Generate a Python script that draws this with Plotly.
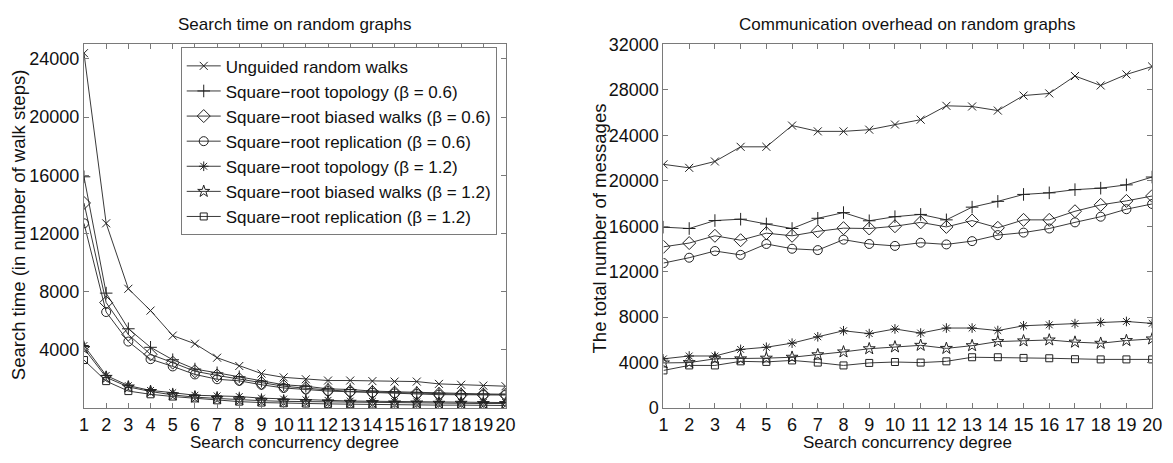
import plotly.graph_objects as go

x = list(range(1, 21))

series_names = [
    "Unguided random walks",
    "Square\u2212root topology (\u03b2 = 0.6)",
    "Square\u2212root biased walks (\u03b2 = 0.6)",
    "Square\u2212root replication (\u03b2 = 0.6)",
    "Square\u2212root topology (\u03b2 = 1.2)",
    "Square\u2212root biased walks (\u03b2 = 1.2)",
    "Square\u2212root replication (\u03b2 = 1.2)",
]

# Left panel: search time (walk steps)
time_unguided = [24400, 12700, 8200, 6700, 4980, 4420, 3460, 2890, 2370, 2110, 1980, 1890, 1890, 1850, 1820, 1820, 1660, 1600, 1540, 1500]
time_topo06 = [15900, 7900, 5450, 4175, 3320, 2680, 2420, 2150, 1850, 1600, 1500, 1320, 1275, 1165, 1120, 1080, 1010, 990, 970, 950]
time_biased06 = [14100, 7250, 5050, 3690, 3120, 2530, 2240, 1980, 1710, 1500, 1360, 1230, 1140, 1100, 1055, 1010, 970, 920, 920, 920]
time_repl06 = [12700, 6600, 4570, 3360, 2860, 2310, 1980, 1870, 1600, 1380, 1275, 1165, 1120, 1055, 1010, 970, 920, 900, 900, 900]
time_topo12 = [4300, 2240, 1540, 1210, 1055, 880, 835, 790, 680, 615, 570, 530, 480, 460, 440, 420, 400, 400, 375, 375]
time_biased12 = [4100, 2110, 1450, 1140, 900, 750, 660, 570, 505, 460, 440, 420, 400, 375, 350, 350, 330, 330, 310, 310]
time_repl12 = [3300, 1850, 1165, 945, 790, 660, 530, 440, 375, 330, 310, 285, 265, 240, 220, 220, 200, 200, 175, 175]

# Right panel: total number of messages
msg_unguided = [21450, 21140, 21700, 22990, 22990, 24860, 24350, 24350, 24500, 24950, 25380, 26600, 26540, 26180, 27500, 27690, 29220, 28390, 29360, 30060]
msg_topo06 = [15920, 15800, 16500, 16620, 16200, 15800, 16700, 17200, 16480, 16840, 17040, 16560, 17680, 18190, 18800, 18940, 19220, 19350, 19640, 20330]
msg_biased06 = [14190, 14520, 15160, 14770, 15390, 15160, 15550, 15830, 15800, 16000, 16340, 15940, 16500, 15860, 16560, 16560, 17320, 17880, 18230, 18660]
msg_repl06 = [12760, 13230, 13820, 13480, 14440, 14020, 13900, 14820, 14440, 14270, 14550, 14400, 14690, 15220, 15440, 15800, 16340, 16840, 17500, 17960]
msg_topo12 = [4330, 4580, 4580, 5160, 5350, 5710, 6270, 6800, 6550, 6960, 6600, 7040, 7040, 6820, 7240, 7320, 7430, 7540, 7620, 7450]
msg_biased12 = [3970, 4000, 4330, 4330, 4390, 4470, 4690, 4940, 5220, 5380, 5520, 5250, 5490, 5850, 5910, 5990, 5800, 5700, 5940, 6080]
msg_repl12 = [3310, 3750, 3750, 4110, 4060, 4190, 4000, 3750, 3970, 4050, 4000, 4110, 4470, 4470, 4410, 4380, 4300, 4280, 4280, 4280]

time_series = [time_unguided, time_topo06, time_biased06, time_repl06, time_topo12, time_biased12, time_repl12]
msg_series = [msg_unguided, msg_topo06, msg_biased06, msg_repl06, msg_topo12, msg_biased12, msg_repl12]

symbols = ["x-thin", "cross-thin", "diamond-open", "circle-open", "asterisk", "star-open", "square-open"]
sizes = [8, 9, 10, 9, 8, 9, 7]

time_ticks = [4000, 8000, 12000, 16000, 20000, 24000]
msg_ticks = [0, 4000, 8000, 12000, 16000, 20000, 24000, 28000, 32000]

FONT = "Liberation Sans, Arial, Helvetica, sans-serif"
LINE = "#3a3a3a"
MARK = "#222222"
AXC = "#7a7a7a"

fig = go.Figure()
for name, ys, sym, sz in zip(series_names, time_series, symbols, sizes):
    fig.add_trace(go.Scatter(
        x=x, y=ys, name=name, mode="lines+markers", xaxis="x", yaxis="y",
        line=dict(color=LINE, width=1),
        marker=dict(symbol=sym, size=sz, color=MARK, line=dict(color=MARK, width=1)),
    ))
for name, ys, sym, sz in zip(series_names, msg_series, symbols, sizes):
    fig.add_trace(go.Scatter(
        x=x, y=ys, name=name, mode="lines+markers", xaxis="x2", yaxis="y2",
        showlegend=False,
        line=dict(color=LINE, width=1),
        marker=dict(symbol=sym, size=sz, color=MARK, line=dict(color=MARK, width=1)),
    ))

W, H = 1173, 463
def px(v):
    return v / W
def py(v):
    return 1 - v / H

common_axis = dict(
    showline=True, linecolor=AXC, linewidth=1, mirror="ticks",
    ticks="inside", ticklen=5, tickcolor=AXC, tickwidth=1,
    showgrid=False, zeroline=False, tickformat="d", tickangle=0,
    tickfont=dict(family=FONT, size=18, color="#111"),
)

fig.update_layout(
    width=W, height=H,
    margin=dict(l=0, r=0, t=0, b=0),
    paper_bgcolor="white", plot_bgcolor="white",
    font=dict(family=FONT, color="#111"),
    xaxis=dict(domain=[px(80), px(507)], range=[1, 20], tickvals=x, anchor="y", **common_axis),
    yaxis=dict(domain=[py(416), py(36)], range=[0, 25000], tickvals=time_ticks, anchor="x", **common_axis),
    xaxis2=dict(domain=[px(667), px(1162)], range=[1, 20], tickvals=x, anchor="y2", **common_axis),
    yaxis2=dict(domain=[py(416), py(36)], range=[0, 32000], tickvals=msg_ticks, anchor="x2", **common_axis),
    legend=dict(
        x=px(178), y=py(39), xanchor="left", yanchor="top",
        bgcolor="white", bordercolor=AXC, borderwidth=1,
        font=dict(family=FONT, size=17, color="#111"),
        tracegroupgap=0, itemwidth=34,
    ),
    showlegend=True,
)

ann_font = dict(family=FONT, size=17, color="#111")
ytitle_font = dict(family=FONT, size=18.5, color="#111")
annotations = [
    dict(text="Search time on random graphs", x=px(293.5), y=py(15), xref="paper", yref="paper",
         showarrow=False, xanchor="center", yanchor="middle", font=ann_font),
    dict(text="Communication overhead on random graphs", x=px(914), y=py(15), xref="paper", yref="paper",
         showarrow=False, xanchor="center", yanchor="middle", font=ann_font),
    dict(text="Search concurrency degree", x=px(293.5), y=py(452.5), xref="paper", yref="paper",
         showarrow=False, xanchor="center", yanchor="middle", font=ann_font),
    dict(text="Search concurrency degree", x=px(914), y=py(452.5), xref="paper", yref="paper",
         showarrow=False, xanchor="center", yanchor="middle", font=ann_font),
    dict(text="Search time (in number of walk steps)", x=px(14), y=py(224), xref="paper", yref="paper",
         showarrow=False, xanchor="center", yanchor="middle", textangle=-90, font=ytitle_font),
    dict(text="The total number of messages", x=px(602), y=py(228), xref="paper", yref="paper",
         showarrow=False, xanchor="center", yanchor="middle", textangle=-90, font=ytitle_font),
]
fig.update_layout(annotations=annotations)

fig.write_html(
    "out.html",
    post_script="document.body.style.margin='0';document.body.style.overflow='hidden';document.documentElement.style.overflow='hidden';",
)
